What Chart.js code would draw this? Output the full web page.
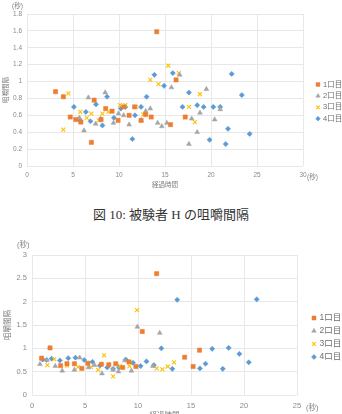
<!DOCTYPE html>
<html>
<head>
<meta charset="utf-8">
<script src="https://cdn.jsdelivr.net/npm/chart.js@4/dist/chart.umd.min.js"></script>
<style>
  html, body { margin: 0; padding: 0; width: 342px; height: 414px; overflow: hidden; background: #fff; }
  .abs { position: absolute; white-space: nowrap; }
  .unit { font-family: 'Liberation Sans', 'Noto Sans CJK JP', sans-serif; color: #808080; }
  #caption { left: 0; width: 342px; text-align: center; top: 204px; font-family: 'Liberation Serif', 'Noto Sans CJK JP', serif; font-size: 13px; color: #333; }
</style>
</head>
<body>
<canvas id="c1" class="abs" style="left:0;top:0" width="342" height="192"></canvas>
<canvas id="c2" class="abs" style="left:0;top:235px" width="342" height="190"></canvas>
<div id="u1" class="abs unit" style="left:12px;top:0px;font-size:6.5px">(秒)</div>
<div id="u2" class="abs unit" style="left:307px;top:171px;font-size:6.5px">(秒)</div>
<div id="caption" class="abs">図 10: 被験者 H の咀嚼間隔</div>
<div id="u3" class="abs unit" style="left:17px;top:238px;font-size:7.5px">(秒)</div>
<div id="u4" class="abs unit" style="left:306px;top:401px;font-size:7.5px">(秒)</div>
<script>
// ---------- data ----------
const seriesNames = ['1口目', '2口目', '3口目', '4口目'];
const xTitle = '経過時間';
const yTitle = '咀嚼間隔';

// Figure 1 (top): [elapsed time (s), interval (s)]
const top1 = [[3.1,0.88],[3.95,0.82],[4.7,0.58],[5.3,0.55],[5.85,0.52],[7.0,0.28],[7.3,0.78],[8.05,0.55],[8.55,0.68],[9.25,0.65],[9.9,0.54],[10.5,0.70],[11.1,0.60],[11.7,0.70],[12.4,0.54],[12.9,0.61],[13.5,0.58],[14.1,1.59],[15.6,0.49],[16.2,1.02],[17.2,0.58]];
const top2 = [[5.7,0.57],[6.2,0.42],[6.67,0.81],[7.46,0.50],[8.0,0.56],[8.5,0.87],[9.4,0.51],[9.95,0.62],[10.5,0.60],[11.1,0.49],[12.4,0.54],[12.9,0.65],[13.4,0.68],[14.2,0.51],[14.65,0.47],[15.2,0.51],[15.7,0.93],[16.6,1.08],[17.6,0.26],[17.9,0.56],[18.5,0.40],[18.8,0.63],[19.5,0.91],[20.4,0.55],[21.0,0.67]];
const top3 = [[3.95,0.43],[4.5,0.86],[5.8,0.64],[6.5,0.57],[7.0,0.62],[7.8,0.54],[8.2,0.62],[8.85,0.64],[10.1,0.72],[10.7,0.72],[11.85,0.70],[12.65,0.61],[13.4,1.02],[14.3,0.97],[15.35,1.19],[16.5,1.10],[17.6,0.70],[18.25,0.52],[18.8,0.85]];
const top4 = [[5.1,0.70],[5.76,0.54],[6.4,0.64],[6.9,0.53],[7.5,0.73],[8.2,0.48],[8.7,0.82],[9.45,0.57],[10.2,0.68],[10.7,0.70],[11.45,0.32],[11.74,0.60],[12.4,0.70],[13.0,0.82],[13.85,1.08],[14.9,0.95],[15.85,1.10],[16.9,0.70],[17.6,0.87],[18.5,0.72],[19.2,0.70],[19.85,0.31],[20.25,0.70],[21.0,0.70],[21.6,0.26],[21.85,0.44],[22.25,1.09],[23.35,0.84],[24.2,0.38]];

// Figure 2 (bottom)
const bot1 = [[0.9,0.79],[1.7,1.01],[2.7,0.63],[3.3,0.67],[4.0,0.67],[4.7,0.57],[5.27,0.68],[6.55,0.66],[7.25,0.65],[7.9,0.67],[8.56,0.59],[9.15,0.71],[9.8,0.61],[10.4,1.36],[11.76,2.60],[14.4,0.81],[15.2,0.61],[15.8,0.96]];
const bot2 = [[0.75,0.66],[1.4,0.75],[2.2,0.62],[2.85,0.52],[4.0,0.54],[4.5,0.80],[5.33,0.59],[5.9,0.64],[6.6,0.46],[7.65,0.54],[8.15,0.50],[8.75,0.74],[9.38,0.52],[9.94,1.46],[11.4,0.62],[12.05,1.33]];
const bot3 = [[1.45,0.64],[2.1,0.77],[3.3,0.63],[4.35,0.60],[5.55,0.60],[6.25,0.54],[6.8,0.85],[7.65,0.40],[8.3,0.62],[9.2,0.62],[9.9,1.82],[11.76,0.57],[12.3,0.55],[12.8,0.61],[13.4,0.70]];
const bot4 = [[1.0,0.76],[1.38,0.75],[1.85,0.78],[2.63,0.74],[3.42,0.79],[4.1,0.80],[4.93,0.75],[5.7,0.71],[6.4,0.63],[7.1,0.59],[7.65,0.56],[8.2,0.59],[8.85,0.76],[9.53,0.69],[10.25,0.62],[10.8,0.72],[11.5,0.64],[12.2,1.00],[13.24,0.56],[13.7,2.04],[15.84,0.57],[16.37,0.67],[17.0,0.99],[18.0,0.56],[18.55,1.01],[19.56,0.88],[20.45,0.70],[21.2,2.05]];

// tick labels
const topXTicks = [0, 5, 10, 15, 20, 25, 30];
const topXTickLabels = ['0', '5', '10', '15', '20', '25', '30'];
const topYTicks = [0, 0.2, 0.4, 0.6, 0.8, 1.0, 1.2, 1.4, 1.6, 1.8];
const topYTickLabels = ['0', '0.2', '0.4', '0.6', '0.8', '1', '1.2', '1.4', '1.6', '1.8'];
const botXTicks = [0, 5, 10, 15, 20, 25];
const botXTickLabels = ['0', '5', '10', '15', '20', '25'];
const botYTicks = [0, 0.5, 1, 1.5, 2, 2.5, 3];
const botYTickLabels = ['0', '0.5', '1', '1.5', '2', '2.5', '3'];

// ---------- styles ----------
const colors = ['#ED7D31', '#A5A5A5', '#FFC000', '#5B9BD5'];
const styles = ['rect', 'triangle', 'crossRot', 'rectRot'];
const radii = [3.0, 2.8, 2.8, 2.6];
const gridColor = '#e8e8e8';
const tickColor = '#8a8a8a';
const FONT = "'Liberation Sans', 'Noto Sans CJK JP', sans-serif";

Chart.defaults.font.family = FONT;

function makeDatasets(list) {
  return list.map((arr, i) => ({
    label: seriesNames[i],
    data: arr.map(([x, y]) => ({ x, y })),
    pointStyle: styles[i],
    pointRadius: radii[i],
    pointHoverRadius: radii[i],
    backgroundColor: colors[i],
    borderColor: colors[i],
    borderWidth: i === 2 ? 1.1 : 0.5,
    showLine: false
  }));
}

const sideLegend = {
  id: 'sideLegend',
  afterDraw(chart, args, opts) {
    const ctx = chart.ctx;
    ctx.save();
    chart.data.datasets.forEach((ds, i) => {
      const y = opts.y + i * opts.gap;
      ctx.fillStyle = ds.backgroundColor;
      ctx.strokeStyle = ds.borderColor;
      ctx.lineWidth = ds.borderWidth;
      Chart.helpers.drawPoint(ctx, { pointStyle: ds.pointStyle, radius: ds.pointRadius * opts.scale, borderWidth: ds.borderWidth, rotation: 0 }, opts.x, y);
      ctx.fillStyle = '#6e6e6e';
      ctx.font = opts.fontSize + 'px ' + FONT;
      ctx.textBaseline = 'middle';
      ctx.textAlign = 'left';
      ctx.fillText(ds.label, opts.x + opts.textGap, y);
    });
    ctx.restore();
  }
};

function makeChart(id, datasets, cfg) {
  return new Chart(document.getElementById(id), {
    type: 'scatter',
    data: { datasets },
    plugins: [sideLegend],
    options: {
      responsive: false,
      animation: false,
      devicePixelRatio: 1,
      layout: { padding: cfg.padding },
      plugins: {
        legend: { display: false },
        tooltip: { enabled: false },
        sideLegend: cfg.legend
      },
      scales: {
        x: {
          type: 'linear', min: cfg.xTicks[0], max: cfg.xTicks[cfg.xTicks.length - 1],
          afterBuildTicks: s => { s.ticks = cfg.xTicks.map(v => ({ value: v })); },
          afterFit: s => { s.height = cfg.xHeight; },
          grid: { color: gridColor, drawTicks: false, lineWidth: 1 },
          border: { display: false },
          ticks: { color: tickColor, font: { size: cfg.tickSize }, padding: cfg.xTickPad, maxRotation: 0,
                   callback: (v, i) => cfg.xLabels[i] },
          title: { display: true, text: xTitle, color: '#7a7a7a', font: { size: cfg.titleSize }, padding: { top: 0, bottom: cfg.xTitlePad } }
        },
        y: {
          type: 'linear', min: cfg.yTicks[0], max: cfg.yTicks[cfg.yTicks.length - 1],
          afterBuildTicks: s => { s.ticks = cfg.yTicks.map(v => ({ value: v })); },
          afterFit: s => { s.width = cfg.yWidth; },
          grid: { color: gridColor, drawTicks: false, lineWidth: 1 },
          border: { display: false },
          ticks: { color: tickColor, font: { size: cfg.tickSize }, padding: 5,
                   callback: (v, i) => cfg.yLabels[i] },
          title: { display: true, text: yTitle, color: '#7a7a7a', font: { size: cfg.titleSize }, padding: { top: cfg.yTitlePad, bottom: 0 } }
        }
      }
    }
  });
}

makeChart('c1', makeDatasets([top1, top2, top3, top4]), {
  padding: { left: 0, top: 14, right: 39, bottom: 0 },
  xTicks: topXTicks, xLabels: topXTickLabels, yTicks: topYTicks, yLabels: topYTickLabels,
  xHeight: 26, yWidth: 27, tickSize: 6.5, titleSize: 6.5, xTickPad: 5, xTitlePad: 3, yTitlePad: 2,
  legend: { x: 318, y: 84.5, gap: 11.4, textGap: 5, fontSize: 7.5, scale: 0.9 }
});

makeChart('c2', makeDatasets([bot1, bot2, bot3, bot4]), {
  padding: { left: 0, top: 20, right: 45, bottom: 0 },
  xTicks: botXTicks, xLabels: botXTickLabels, yTicks: botYTicks, yLabels: botYTickLabels,
  xHeight: 30, yWidth: 32, tickSize: 7.5, titleSize: 7.5, xTickPad: 6, xTitlePad: 5, yTitlePad: 3,
  legend: { x: 314, y: 83, gap: 13, textGap: 5.5, fontSize: 8.5, scale: 0.95 }
});
</script>
</body>
</html>
